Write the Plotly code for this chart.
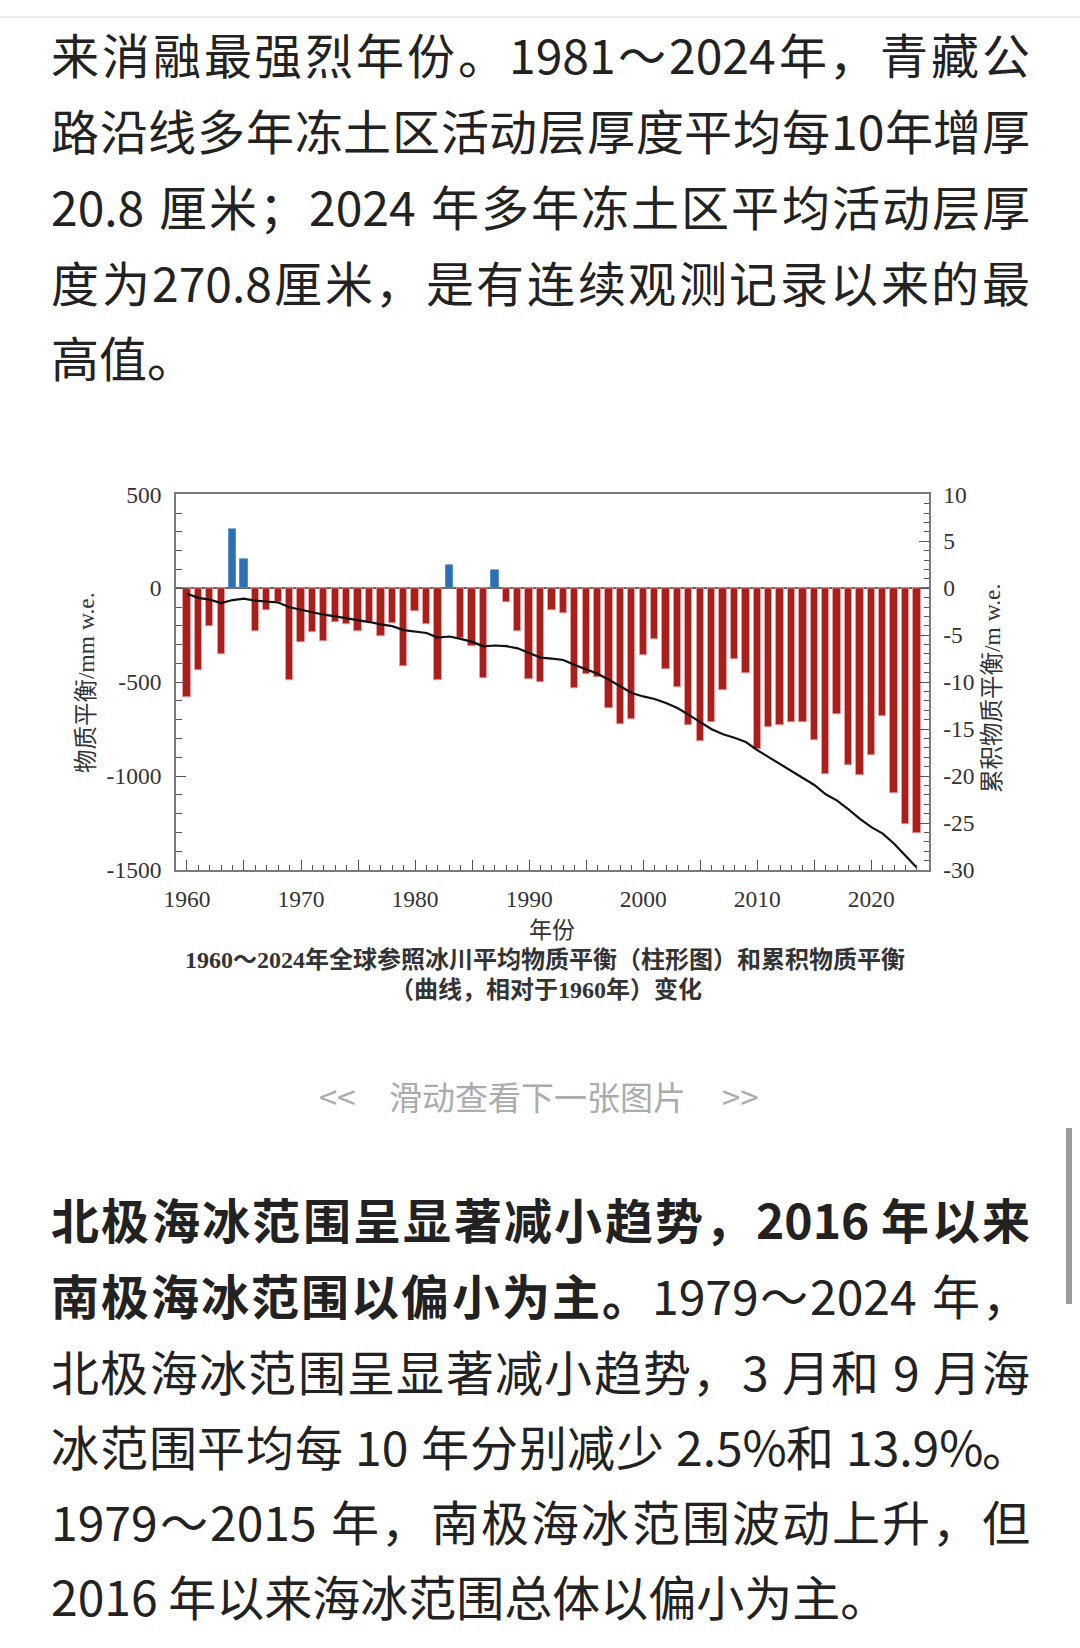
import re
import plotly.graph_objects as go

W, H = 1080, 1648

# ---------------- chart data ----------------
years = list(range(1960, 2025))
# annual mean mass balance of global reference glaciers (mm w.e.)
mass_balance = [-580, -437, -204, -354, 315, 156, -227, -119, -74, -491,
                -289, -234, -280, -181, -190, -227, -180, -257, -188, -417,
                -124, -191, -488, 124, -265, -307, -482, 94, -74, -230,
                -484, -502, -115, -133, -534, -459, -473, -641, -723, -697,
                -358, -270, -429, -526, -731, -817, -714, -541, -376, -452,
                -860, -741, -728, -716, -714, -808, -991, -670, -941, -998,
                -888, -680, -1092, -1256, -1302]
# cumulative mass balance relative to 1960 (m w.e.)
cumulative = [-0.58, -1.02, -1.22, -1.58, -1.26, -1.10, -1.33, -1.45, -1.52, -2.02,
              -2.30, -2.54, -2.82, -3.00, -3.19, -3.42, -3.60, -3.85, -4.04, -4.46,
              -4.58, -4.77, -5.26, -5.14, -5.40, -5.71, -6.19, -6.10, -6.17, -6.40,
              -6.89, -7.39, -7.50, -7.64, -8.17, -8.63, -9.10, -9.74, -10.47, -11.16,
              -11.52, -11.79, -12.22, -12.75, -13.48, -14.29, -15.01, -15.55, -15.92, -16.38,
              -17.24, -17.98, -18.71, -19.42, -20.14, -20.95, -21.94, -22.61, -23.55, -24.55,
              -25.44, -26.12, -27.21, -28.46, -29.77]

x_tickvals = [1960, 1965, 1970, 1975, 1980, 1985, 1990, 1995, 2000, 2005, 2010, 2015, 2020]
x_ticktext = ["1960", "", "1970", "", "1980", "", "1990", "", "2000", "", "2010", "", "2020"]
y_tickvals = [-1500, -1000, -500, 0, 500]
y_ticktext = ["-1500", "-1000", "-500", "0", "500"]
y2_tickvals = [-30, -25, -20, -15, -10, -5, 0, 5, 10]
y2_ticktext = ["-30", "-25", "-20", "-15", "-10", "-5", "0", "5", "10"]

RED = "#A91F1B"
BLUE = "#2D6FB5"
bar_colors = [BLUE if v > 0 else RED for v in mass_balance]
bar_edges = ["rgba(80,140,200,0.9)" if v > 0 else "rgba(232,160,160,0.9)" for v in mass_balance]

# ---------------- page text ----------------
TXT = "#222222"
BODY = "Noto Sans CJK SC"
SERIF = "Liberation Serif, Noto Sans CJK SC"
LEFT, RIGHT = 50, 1029

top_para = [
    ([("来消融最强烈年份。1981～2024年，青藏公", False)], 53, True),
    ([("路沿线多年冻土区活动层厚度平均每10年增厚", False)], 129, True),
    ([("20.8 厘米；2024 年多年冻土区平均活动层厚", False)], 205, True),
    ([("度为270.8厘米，是有连续观测记录以来的最", False)], 281, True),
    ([("高值。", False)], 356, False),
]
bottom_para = [
    ([("北极海冰范围呈显著减小趋势，2016 年以来", True)], 1218, True),
    ([("南极海冰范围以偏小为主。", True), ("1979～2024 年，", False)], 1294, True),
    ([("北极海冰范围呈显著减小趋势，3 月和 9 月海", False)], 1370, True),
    ([("冰范围平均每 10 年分别减少 2.5%和 13.9%。", False)], 1445, True),
    ([("1979～2015 年，南极海冰范围波动上升，但", False)], 1520, True),
    ([("2016 年以来海冰范围总体以偏小为主。", False)], 1595, False),
]


def px(x):
    return x / W


def py(y):
    return 1 - y / H


def tok_w(t, size, bold):
    if t == " ":
        return 0.224 * size
    if re.match(r"[0-9.%]", t):
        w = 0.0
        for ch in t:
            if ch.isdigit():
                w += 0.575 if bold else 0.555
            elif ch == ".":
                w += 0.27
            elif ch == "%":
                w += 0.88
        return w * size
    return size


annotations = []


def add_line(segments, yc, justify, size=48, color=TXT):
    if not justify:
        txt = "".join(f"<b>{t}</b>" if b else t for t, b in segments)
        annotations.append(dict(text=txt, x=px(LEFT), y=py(yc), xref="paper", yref="paper",
                                xanchor="left", yanchor="middle", showarrow=False, borderpad=0,
                                font=dict(family=BODY, size=size, color=color)))
        return
    toks = []
    for text, bold in segments:
        for m in re.finditer(r"[0-9.%]+| |.", text):
            t = m.group(0)
            toks.append((t, bold, tok_w(t, size, bold)))
    total = sum(w for _, _, w in toks)
    gap = (RIGHT - LEFT - total) / (len(toks) - 1)
    x = LEFT
    for t, b, w in toks:
        if t != " ":
            annotations.append(dict(text=f"<b>{t}</b>" if b else t, x=px(x), y=py(yc),
                                    xref="paper", yref="paper", xanchor="left", yanchor="middle",
                                    showarrow=False, borderpad=0,
                                    font=dict(family=BODY, size=size, color=color)))
        x += w + gap


for segs, yc, j in top_para + bottom_para:
    add_line(segs, yc, j)

GRAY_NAV = "#ababab"
for t, xc in [("<<", 337), ("滑动查看下一张图片", 537), (">>", 740)]:
    annotations.append(dict(text=t, x=px(xc), y=py(1096), xref="paper", yref="paper",
                            xanchor="center", yanchor="middle", showarrow=False,
                            font=dict(family=BODY, size=33, color=GRAY_NAV)))

CH = "#333333"
# chart titles
annotations += [
    dict(text="物质平衡/mm w.e.", x=px(86), y=py(683), textangle=-90,
         font=dict(family=SERIF, size=23.5, color=CH)),
    dict(text="累积物质平衡/m w.e.", x=px(992), y=py(689), textangle=-90,
         font=dict(family=SERIF, size=23.5, color=CH)),
    dict(text="年份", x=px(552), y=py(930), font=dict(family=SERIF, size=23, color=CH)),
    dict(text="<b>1960～2024年全球参照冰川平均物质平衡（柱形图）和累积物质平衡</b>",
         x=px(545), y=py(960), font=dict(family=SERIF, size=24, color=CH)),
    dict(text="<b>（曲线，相对于1960年）变化</b>", x=px(546), y=py(989),
         font=dict(family=SERIF, size=24, color=CH)),
]
for a in annotations[-5:]:
    a.update(xref="paper", yref="paper", xanchor="center", yanchor="middle", showarrow=False)

# ---------------- figure ----------------
fig = go.Figure()
fig.add_trace(go.Bar(x=years, y=mass_balance, width=0.64,
                     marker=dict(color=bar_colors, line=dict(color=bar_edges, width=1)),
                     yaxis="y", hoverinfo="x+y"))
fig.add_trace(go.Scatter(x=years, y=cumulative, mode="lines", yaxis="y2",
                         line=dict(color="#111111", width=2.2)))

AX = "#7a7a7a"
TK = "#555555"
tickfont = dict(family="Liberation Serif", size=23.5, color=CH)
xd = [176 / W, 928.7 / W]
yd = [1 - 870 / H, 1 - 494.3 / H]

fig.update_layout(
    width=W, height=H, autosize=False,
    margin=dict(l=0, r=0, t=0, b=0),
    paper_bgcolor="white", plot_bgcolor="white",
    showlegend=False, bargap=0,
    xaxis=dict(domain=xd, range=[1959.04, 2025.03], tickmode="array",
               tickvals=x_tickvals, ticktext=x_ticktext, ticks="inside", ticklen=10,
               tickwidth=1.2, tickcolor=TK,
               minor=dict(tickmode="linear", tick0=1960, dtick=1, ticks="inside",
                          ticklen=5, tickwidth=1.1, tickcolor=TK),
               showline=True, linecolor=AX, linewidth=1.8, mirror=True,
               showgrid=False, zeroline=False, tickfont=tickfont,
               ticklabelstandoff=7, automargin=False, fixedrange=True),
    yaxis=dict(domain=yd, range=[-1500, 500], tickmode="array",
               tickvals=y_tickvals, ticktext=y_ticktext, ticks="inside", ticklen=10,
               tickwidth=1.2, tickcolor=TK,
               minor=dict(tickmode="linear", tick0=0, dtick=100, ticks="inside",
                          ticklen=6, tickwidth=1.1, tickcolor=TK),
               showline=True, linecolor=AX, linewidth=1.8,
               showgrid=False, zeroline=True, zerolinecolor="#6a6a6a", zerolinewidth=1.5,
               tickfont=tickfont, ticklabelstandoff=8, automargin=False, fixedrange=True),
    yaxis2=dict(overlaying="y", side="right", anchor="x", range=[-30, 10],
                tickmode="array", tickvals=y2_tickvals, ticktext=y2_ticktext,
                ticks="inside", ticklen=10, tickwidth=1.2, tickcolor=TK,
                minor=dict(tickmode="linear", tick0=0, dtick=1, ticks="inside",
                           ticklen=5, tickwidth=1.1, tickcolor=TK),
                showline=True, linecolor=AX, linewidth=1.8,
                showgrid=False, zeroline=False, tickfont=tickfont,
                ticklabelstandoff=8, automargin=False, fixedrange=True),
    annotations=annotations,
    shapes=[
        dict(type="line", xref="paper", yref="paper", x0=0, x1=1, y0=py(17), y1=py(17),
             line=dict(color="#e6e6e6", width=1.5)),
        dict(type="rect", xref="paper", yref="paper", x0=px(1066), x1=px(1072),
             y0=py(1304), y1=py(1128), fillcolor="#9c9c9c", line=dict(width=0)),
    ],
)

fig.write_html("out.html", config={"displayModeBar": False})
